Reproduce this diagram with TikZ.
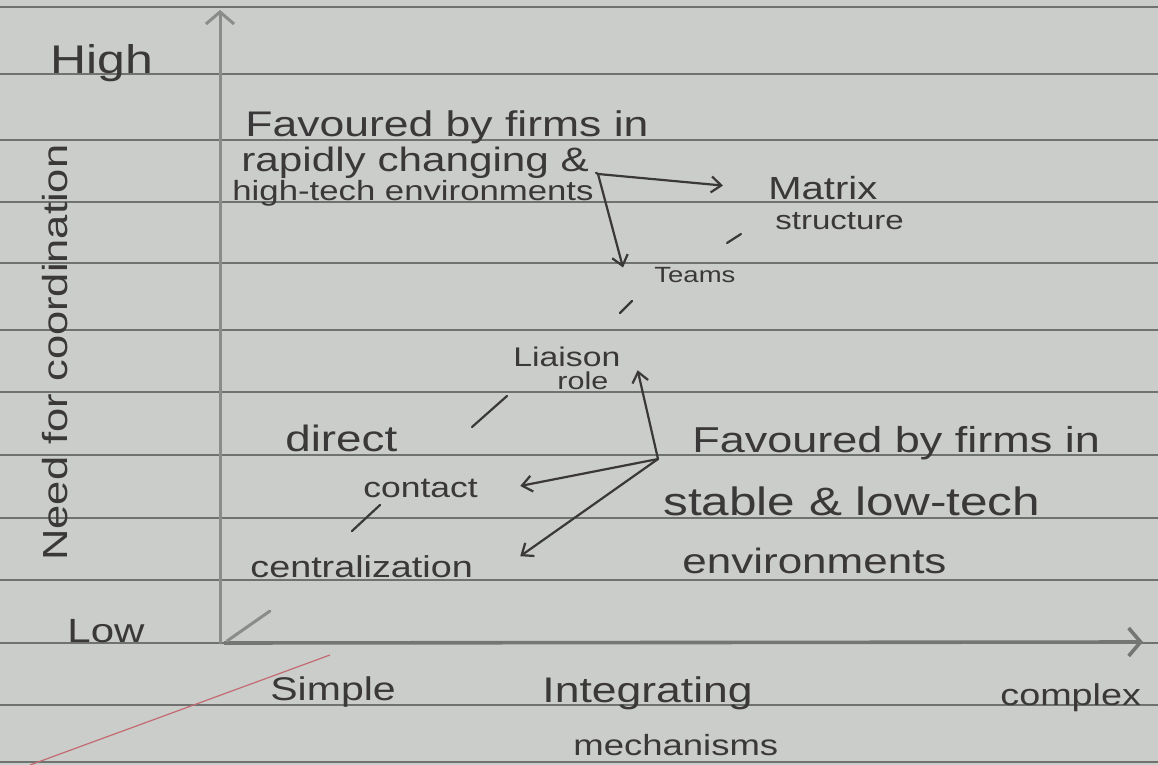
\documentclass[tikz,border=0pt]{standalone}
\usepackage{fontspec}
\setmainfont{Liberation Sans}
\usetikzlibrary{arrows.meta}
\definecolor{paper}{HTML}{CACDC9}
\definecolor{rulec}{HTML}{6F726F}
\definecolor{inkc}{HTML}{3A3838}
\definecolor{pencilc}{HTML}{8A8C8A}
\definecolor{pencildark}{HTML}{747674}
\definecolor{redline}{HTML}{C46A72}
\newcommand{\fs}[1]{\fontsize{#1}{#1}\selectfont}
\newcommand{\sx}[1]{\scalebox{1.25}[1]{#1}}
\begin{document}
\begin{tikzpicture}[x=0.5pt,y=-0.5pt,
  rule/.style={draw=rulec, line width=0.6pt},
  txt/.style={text=inkc, inner sep=0pt, anchor=base west},
  ink/.style={draw=inkc, line width=1.1pt, line cap=round, line join=round},
  arr/.style={ink, -{Straight Barb[length=5pt,width=8pt]}},
  tickmark/.style={draw=inkc, line width=1.1pt, line cap=round},
  pencil/.style={draw=pencilc, line width=1.5pt, line cap=round},
  axisarr/.style={-{Straight Barb[length=6pt,width=14pt]}}]
  % paper
  \fill[paper] (0,0) rectangle (1158,765);
  \useasboundingbox (0,0) rectangle (1158,765);
  \foreach \yy in {7,74,140,202,263,330,392,455,518,580,643,705,762}
    \draw[rule] (0,\yy) -- (1158,\yy);
  \draw[redline, line width=0.6pt] (30,765) -- (330,655);
  % axes
  \coordinate (origin) at (220,643);
  \coordinate (ytop) at (220,10);
  \coordinate (xstart) at (224,643);
  \coordinate (xend) at (1143,642);
  \draw[pencil, axisarr] (origin) -- (ytop);
  \draw[draw=pencildark, line width=1.8pt, axisarr] (xstart) -- (xend);
  \draw[pencil] (227,641) -- (270,611);
  % axis labels
  \node[txt, font=\fs{20}] (high) at (50,74) {\sx{High}};
  \node[txt, font=\fs{16.8}] (low) at (67,642) {\sx{Low}};
  \node[txt, font=\fs{17.4}, rotate=90] (need) at (68,561) {\sx{Need for coordination}};
  \node[txt, font=\fs{16.4}] (simple) at (270,700) {\sx{Simple}};
  \node[txt, font=\fs{17.8}] (integ) at (542,702) {\sx{Integrating}};
  \node[txt, font=\fs{14.6}] (mech) at (573,755) {\sx{mechanisms}};
  \node[txt, font=\fs{15.1}] (complex) at (1000,705) {\sx{complex}};
  % top group
  \node[txt, font=\fs{17.8}] (fav1) at (245,137) {\sx{Favoured by firms in}};
  \node[txt, font=\fs{16.9}] (rapid) at (241,172) {\sx{rapidly changing \&}};
  \node[txt, font=\fs{13.9}] (hightech) at (232,200) {\sx{high-tech environments}};
  \node[txt, font=\fs{16}] (matrix) at (768,199) {\sx{Matrix}};
  \node[txt, font=\fs{13.2}] (structure) at (775,229) {\sx{structure}};
  \node[txt, font=\fs{11}] (teams) at (654,282) {\sx{Teams}};
  \coordinate (c1) at (598,174);
  \draw[ink] (hightech.east) ++(2,-20) coordinate (brk) -- (c1);
  \draw[arr] (c1) -- ([shift={(-45,-2)}]matrix.west);
  \draw[arr] (c1) -- ([shift={(-31,-7)}]teams.west);
  % middle group
  \node[txt, font=\fs{13.5}] (liaison) at (513,366) {\sx{Liaison}};
  \node[txt, font=\fs{12.2}] (role) at (557,389) {\sx{role}};
  \node[txt, font=\fs{18.3}] (direct) at (285,451) {\sx{direct}};
  \node[txt, font=\fs{14.2}] (contact) at (363,497) {\sx{contact}};
  \node[txt, font=\fs{15.1}] (central) at (250,577) {\sx{centralization}};
  \coordinate (c2) at (658,459);
  \draw[arr] (c2) -- ([shift={(29,-10)}]role.east);
  \draw[arr] (c2) -- ([shift={(42,-2)}]contact.east);
  \draw[arr] (c2) -- ([shift={(47,-10)}]central.east);
  % lower right group
  \node[txt, font=\fs{18}] (fav2) at (692,452) {\sx{Favoured by firms in}};
  \node[txt, font=\fs{19.8}] (stable) at (663,515) {\sx{stable \& low-tech}};
  \node[txt, font=\fs{17.6}] (environ) at (682,573) {\sx{environments}};
  % tick marks between mechanisms
  \draw[tickmark] (727,243) -- (741,234);
  \draw[tickmark] (620,313) -- (632,301);
  \draw[tickmark] (472,427) -- (507,396);
  \draw[tickmark] (352,531) -- (380,505);
\end{tikzpicture}
\end{document}
